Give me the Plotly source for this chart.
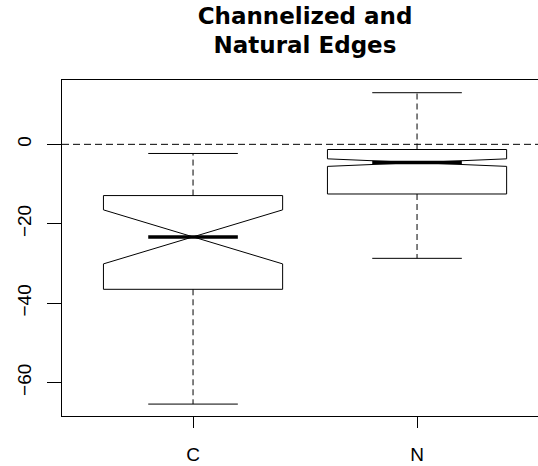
import plotly.graph_objects as go

# ---- data ----
categories = ["C", "N"]
upper_whisker = [-2.3, 13.0]
q3_values = [-12.9, -1.3]
median_values = [-23.3, -4.6]
q1_values = [-36.5, -12.5]
lower_whisker = [-65.4, -28.7]
notch_half_span = [6.8, 0.95]
y_tick_values = [-60, -40, -20, 0]
title_text = "Channelized and<br>Natural Edges"

# ---- style constants ----
BOX_WIDTH = 0.8          # R boxwex
NOTCH_FRAC = 0.5         # notch width relative to box
CAP_HALF = BOX_WIDTH / 2 * 0.5  # R staplewex 0.5
AXIS_FONT = dict(family="Liberation Sans, Arial, sans-serif", size=19, color="black")
FIG_W, FIG_H = 538, 466

positions = list(range(len(categories)))

fig = go.Figure()

# notched boxes (whiskers drawn separately so they can be dashed)
fig.add_trace(go.Box(
    x=positions,
    q1=q1_values,
    median=median_values,
    q3=q3_values,
    lowerfence=q1_values,
    upperfence=q3_values,
    notchspan=notch_half_span,
    notched=True,
    notchwidth=NOTCH_FRAC,
    width=BOX_WIDTH,
    whiskerwidth=0,
    boxpoints=False,
    fillcolor="rgba(0,0,0,0)",
    line=dict(color="black", width=1),
    hoverinfo="skip",
    showlegend=False,
))

# dashed whiskers
wx, wy = [], []
for p, lo, q1, q3, hi in zip(positions, lower_whisker, q1_values, q3_values, upper_whisker):
    wx += [p, p, None, p, p, None]
    wy += [q3, hi, None, q1, lo, None]
fig.add_trace(go.Scatter(x=wx, y=wy, mode="lines",
                         line=dict(color="black", width=1, dash="6px,4px"),
                         hoverinfo="skip", showlegend=False))

# whisker caps
cx, cy = [], []
for p, lo, hi in zip(positions, lower_whisker, upper_whisker):
    cx += [p - CAP_HALF, p + CAP_HALF, None, p - CAP_HALF, p + CAP_HALF, None]
    cy += [hi, hi, None, lo, lo, None]
fig.add_trace(go.Scatter(x=cx, y=cy, mode="lines",
                         line=dict(color="black", width=1),
                         hoverinfo="skip", showlegend=False))

# thick medians
mhalf = BOX_WIDTH / 2 * NOTCH_FRAC
mx, my = [], []
for p, m in zip(positions, median_values):
    mx += [p - mhalf, p + mhalf, None]
    my += [m, m, None]
fig.add_trace(go.Scatter(x=mx, y=my, mode="lines",
                         line=dict(color="black", width=3.5),
                         hoverinfo="skip", showlegend=False))

# reference line at 0
fig.add_shape(type="line", xref="paper", x0=0, x1=1, yref="y", y0=0, y1=0,
              line=dict(color="black", width=1, dash="7px,4px"))

fig.update_layout(
    width=FIG_W, height=FIG_H,
    margin=dict(l=62, r=0, t=80, b=50),
    paper_bgcolor="white", plot_bgcolor="white",
    title=dict(text="<b>" + title_text + "</b>",
               font=dict(family="DejaVu Sans, sans-serif", size=23, color="black"),
               x=305 / FIG_W, xref="container", xanchor="center",
               y=1 - 23.5 / FIG_H, yref="container", yanchor="top"),
    xaxis=dict(range=[-0.585, 1.54], tickmode="array", tickvals=positions,
               ticktext=categories, showgrid=False, zeroline=False,
               showline=True, linecolor="black", linewidth=1, mirror=True,
               ticks="outside", ticklen=11, tickcolor="black",
               tickfont=AXIS_FONT, ticklabelstandoff=10),
    yaxis=dict(range=[-68.4, 16.2], tickmode="array", tickvals=y_tick_values,
               showgrid=False, zeroline=False,
               showline=True, linecolor="black", linewidth=1, mirror=False,
               ticks="outside", ticklen=14, tickcolor="black",
               tickangle=-90, tickfont=AXIS_FONT, ticklabelstandoff=8),
)

fig.write_html(
    "out.html",
    config={"displayModeBar": False},
    post_script="document.body.style.margin='0';document.body.style.overflow='hidden';",
)
